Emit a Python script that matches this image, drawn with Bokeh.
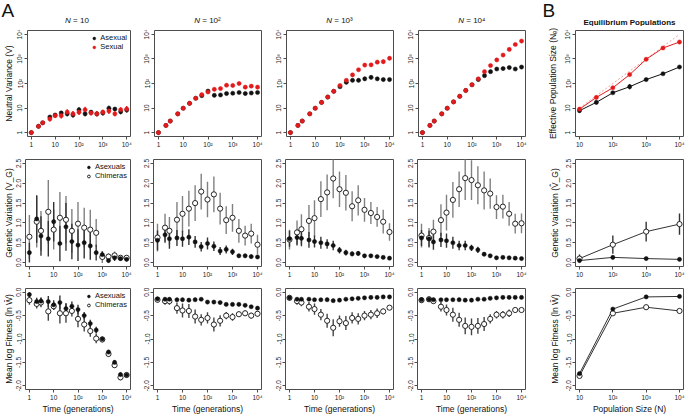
import math
from bokeh.plotting import figure
from bokeh.layouts import row, column
from bokeh.models import Range1d, FixedTicker, Label, Legend, LegendItem
from bokeh.embed import file_html
from bokeh.resources import INLINE

FONT = "Liberation Sans"
BLACK = "#111111"
RED = "#E31A1C"
GRAY = "#808080"
PINK = "#F2A0A0"

# ---------------- data ----------------
generations = [1, 2, 3, 6, 10, 18, 32, 56, 100, 180, 320, 560, 1000, 1800, 3200, 5600, 10000]
pop_size = [10, 100, 1000, 10000]
pop_size_ne = [10, 32, 100, 320, 1000, 3200, 10000]

time_ticks = [1, 10, 100, 1000, 10000]
time_tick_labels = ["1", "10", "10²", "10³", "10⁴"]
pop_ticks = [10, 100, 1000, 10000]
pop_tick_labels = ["10", "10²", "10³", "10⁴"]
nv_ticks = [1, 10, 100, 1000, 10000]
nv_tick_labels = ["1", "10", "10²", "10³", "10⁴"]
gv_ticks = [0, 0.5, 1, 1.5, 2, 2.5]
gv_tick_labels = ["0.0", "0.5", "1.0", "1.5", "2.0", "2.5"]
fit_ticks = [-2, -1.5, -1, -0.5, 0]
fit_tick_labels = ["-2.0", "-1.5", "-1.0", "-0.5", "0.0"]

panel_n_values = ["10", "10²", "10³", "10⁴"]
eq_title = "Equilibrium Populations"
section_letters = ["A", "B"]

nv_asex = [
    [1.0, 1.8, 2.5, 4.3, 5.2, 6.3, 5.8, 5.2, 8.5, 5.8, 6.8, 5.8, 6.3, 9.8, 9.1, 7.1, 8.3],
    [1.0, 1.95, 2.95, 5.8, 9.8, 15.5, 25, 32, 49, 33, 34, 39, 40, 43, 39, 41, 43],
    [1.0, 1.95, 2.95, 5.8, 9.8, 17, 28, 48, 74, 112, 135, 135, 155, 178, 155, 145, 145],
    [1.0, 1.95, 2.95, 5.8, 9.8, 17.8, 30, 52, 89, 145, 209, 302, 389, 407, 447, 389, 468],
]
nv_sex = [
    [1.0, 1.8, 2.5, 3.6, 4.9, 4.9, 6.8, 5.8, 6.8, 8.5, 6.3, 5.8, 6.8, 7.6, 5.8, 8.5, 9.1],
    [1.0, 1.95, 2.95, 5.8, 9.8, 15.5, 25, 35, 45, 58, 62, 85, 83, 100, 71, 78, 71],
    [1.0, 1.95, 2.95, 5.8, 9.8, 17, 28, 48, 83, 135, 224, 363, 562, 575, 741, 776, 1070],
    [1.0, 1.95, 2.95, 5.8, 9.8, 17.8, 30, 52, 89, 155, 302, 537, 912, 1445, 2455, 3890, 5370],
]
nv_asex_err = [
    [0.04, 0.06, 0.06, 0.07, 0.07, 0.08, 0.1, 0.1, 0.1, 0.1, 0.08, 0.1, 0.1, 0.1, 0.08, 0.1, 0.1],
    [0.02, 0.02, 0.02, 0.02, 0.02, 0.02, 0.02, 0.04, 0.05, 0.06, 0.06, 0.06, 0.06, 0.05, 0.05, 0.05, 0.05],
    [0.02, 0.02, 0.02, 0.02, 0.02, 0.02, 0.02, 0.02, 0.04, 0.05, 0.06, 0.06, 0.08, 0.08, 0.04, 0.04, 0.04],
    [0.02, 0.02, 0.02, 0.02, 0.02, 0.02, 0.02, 0.02, 0.02, 0.03, 0.04, 0.04, 0.04, 0.04, 0.05, 0.04, 0.05],
]
nv_sex_err = [
    [0.03, 0.05, 0.05, 0.1, 0.1, 0.12, 0.12, 0.12, 0.12, 0.12, 0.1, 0.1, 0.1, 0.12, 0.1, 0.1, 0.12],
    [0.02, 0.02, 0.02, 0.02, 0.02, 0.02, 0.02, 0.04, 0.05, 0.06, 0.06, 0.07, 0.07, 0.07, 0.06, 0.06, 0.06],
    [0.02, 0.02, 0.02, 0.02, 0.02, 0.02, 0.02, 0.02, 0.02, 0.05, 0.05, 0.06, 0.07, 0.07, 0.07, 0.08, 0.08],
    [0.02, 0.02, 0.02, 0.02, 0.02, 0.02, 0.02, 0.02, 0.02, 0.02, 0.02, 0.02, 0.02, 0.02, 0.02, 0.02, 0.02],
]
ne_asex = [7.8, 17, 42, 74, 145, 250, 470]
ne_sex = [9, 27, 67, 230, 970, 2800, 4900]
ne_asex_err = [0.08, 0.08, 0.04, 0.1, 0.03, 0.03, 0.03]
ne_sex_err = [0.08, 0.05, 0.04, 0.05, 0.07, 0.07, 0.05]

gv_asex = [
    [0.25, 1.10, 0.67, 0.60, 1.03, 0.48, 0.90, 0.53, 0.44, 0.50, 0.42, 0.25, 0.20, 0.05, 0.12, 0.10, 0.08],
    [0.56, 0.70, 0.60, 0.62, 0.60, 0.64, 0.52, 0.40, 0.48, 0.41, 0.29, 0.33, 0.27, 0.17, 0.17, 0.15, 0.14],
    [0.60, 0.63, 0.61, 0.57, 0.53, 0.50, 0.47, 0.43, 0.31, 0.25, 0.22, 0.23, 0.17, 0.17, 0.15, 0.13, 0.11],
    [0.62, 0.60, 0.52, 0.57, 0.55, 0.50, 0.43, 0.43, 0.37, 0.32, 0.21, 0.17, 0.12, 0.13, 0.12, 0.11, 0.10],
]
gv_asex_err = [
    [0.25, 0.6, 0.5, 0.45, 0.5, 0.45, 0.6, 0.45, 0.4, 0.4, 0.35, 0.2, 0.08, 0.05, 0.08, 0.05, 0.05],
    [0.25, 0.2, 0.25, 0.2, 0.2, 0.2, 0.15, 0.12, 0.15, 0.12, 0.1, 0.1, 0.08, 0.05, 0.05, 0.05, 0.05],
    [0.2, 0.2, 0.2, 0.2, 0.15, 0.15, 0.12, 0.12, 0.08, 0.07, 0.06, 0.06, 0.04, 0.04, 0.04, 0.03, 0.03],
    [0.2, 0.2, 0.2, 0.18, 0.18, 0.15, 0.12, 0.12, 0.08, 0.08, 0.05, 0.04, 0.03, 0.03, 0.03, 0.03, 0.03],
]
gv_chim = [
    [0.65, 1.03, 0.80, 1.28, 0.83, 1.13, 1.08, 0.80, 0.98, 0.88, 0.83, 0.75, 0.14, 0.15, 0.18, 0.12, 0.12],
    [0.63, 0.88, 0.80, 1.08, 1.23, 1.36, 1.50, 1.79, 1.59, 1.72, 1.36, 1.07, 1.13, 0.80, 0.68, 0.73, 0.45],
    [0.58, 0.76, 0.84, 1.05, 1.12, 1.60, 1.77, 2.12, 1.85, 1.76, 1.42, 1.57, 1.33, 1.25, 1.15, 1.03, 0.77],
    [0.68, 0.62, 0.78, 1.07, 1.26, 1.58, 1.85, 2.13, 2.08, 1.95, 1.82, 1.74, 1.40, 1.41, 1.23, 0.98, 0.99],
]
gv_chim_err = [
    [0.55, 0.65, 0.5, 0.8, 0.5, 0.65, 0.6, 0.55, 0.55, 0.5, 0.5, 0.35, 0.15, 0.08, 0.1, 0.05, 0.05],
    [0.35, 0.35, 0.35, 0.45, 0.45, 0.45, 0.45, 0.45, 0.45, 0.45, 0.4, 0.35, 0.35, 0.3, 0.25, 0.25, 0.25],
    [0.25, 0.3, 0.38, 0.4, 0.45, 0.45, 0.45, 0.5, 0.45, 0.45, 0.38, 0.38, 0.3, 0.28, 0.25, 0.3, 0.22],
    [0.3, 0.25, 0.3, 0.4, 0.45, 0.45, 0.45, 0.55, 0.5, 0.48, 0.48, 0.38, 0.3, 0.3, 0.3, 0.25, 0.25],
]
eq_gv_asex = [0.05, 0.13, 0.10, 0.08]
eq_gv_asex_err = [0.03, 0.05, 0.03, 0.03]
eq_gv_chim = [0.10, 0.45, 0.78, 0.97]
eq_gv_chim_err = [0.1, 0.23, 0.25, 0.27]

fit_asex = [
    [-0.05, -0.20, -0.19, -0.20, -0.27, -0.22, -0.35, -0.30, -0.37, -0.50, -0.67, -0.81, -1.00, -1.28, -1.50, -1.76, -1.77],
    [-0.14, -0.15, -0.15, -0.16, -0.16, -0.17, -0.16, -0.15, -0.21, -0.21, -0.22, -0.26, -0.26, -0.26, -0.28, -0.31, -0.34],
    [-0.12, -0.15, -0.15, -0.15, -0.16, -0.16, -0.16, -0.18, -0.17, -0.15, -0.14, -0.13, -0.12, -0.11, -0.11, -0.10, -0.10],
    [-0.16, -0.15, -0.16, -0.16, -0.16, -0.16, -0.16, -0.17, -0.17, -0.15, -0.15, -0.13, -0.12, -0.11, -0.11, -0.11, -0.11],
]
fit_asex_err = [
    [0.05, 0.08, 0.08, 0.12, 0.1, 0.15, 0.12, 0.1, 0.1, 0.08, 0.08, 0.07, 0.05, 0.05, 0.05, 0.05, 0.04],
    [0.04, 0.04, 0.04, 0.04, 0.04, 0.04, 0.03, 0.03, 0.03, 0.03, 0.03, 0.03, 0.03, 0.03, 0.03, 0.03, 0.03],
    [0.03, 0.03, 0.03, 0.03, 0.03, 0.03, 0.03, 0.03, 0.03, 0.03, 0.03, 0.03, 0.03, 0.03, 0.03, 0.03, 0.03],
    [0.03, 0.03, 0.03, 0.03, 0.03, 0.03, 0.03, 0.03, 0.03, 0.03, 0.03, 0.03, 0.03, 0.03, 0.03, 0.03, 0.03],
]
fit_chim = [
    [-0.17, -0.25, -0.22, -0.41, -0.30, -0.45, -0.45, -0.40, -0.57, -0.69, -0.83, -0.99, -1.01, -1.32, -1.56, -1.82, -1.77],
    [-0.16, -0.19, -0.19, -0.34, -0.39, -0.40, -0.52, -0.59, -0.55, -0.69, -0.61, -0.50, -0.53, -0.47, -0.45, -0.50, -0.46],
    [-0.12, -0.19, -0.22, -0.31, -0.36, -0.48, -0.61, -0.76, -0.62, -0.66, -0.55, -0.57, -0.50, -0.48, -0.45, -0.41, -0.33],
    [-0.17, -0.15, -0.19, -0.31, -0.38, -0.48, -0.59, -0.72, -0.74, -0.72, -0.68, -0.57, -0.48, -0.48, -0.45, -0.38, -0.38],
]
fit_chim_err = [
    [0.1, 0.1, 0.1, 0.2, 0.08, 0.22, 0.2, 0.12, 0.18, 0.15, 0.12, 0.1, 0.06, 0.06, 0.06, 0.06, 0.05],
    [0.06, 0.08, 0.08, 0.12, 0.15, 0.15, 0.15, 0.12, 0.12, 0.15, 0.12, 0.08, 0.08, 0.06, 0.06, 0.06, 0.06],
    [0.05, 0.08, 0.08, 0.1, 0.12, 0.12, 0.15, 0.18, 0.12, 0.15, 0.12, 0.12, 0.1, 0.1, 0.1, 0.06, 0.05],
    [0.06, 0.05, 0.06, 0.1, 0.12, 0.15, 0.15, 0.18, 0.18, 0.17, 0.15, 0.1, 0.08, 0.08, 0.08, 0.05, 0.05],
]
eq_fit_asex = [-1.74, -0.36, -0.10, -0.09]
eq_fit_asex_err = [0.03, 0.02, 0.02, 0.02]
eq_fit_chim = [-1.79, -0.45, -0.32, -0.40]
eq_fit_chim_err = [0.04, 0.03, 0.05, 0.05]


# ---------------- helpers ----------------
def pad_log(lo, hi):
    a, b = math.log10(lo), math.log10(hi)
    d = (b - a) * 0.04
    return Range1d(10 ** (a - d), 10 ** (b + d))


def pad_lin(lo, hi):
    d = (hi - lo) * 0.04
    return Range1d(lo - d, hi + d)


def make_fig(w, h, bl, br, bt, bb, xr, yr, ylog, xt, xl, yt, yl):
    p = figure(width=w, height=h, x_range=xr, y_range=yr,
               x_axis_type="log", y_axis_type="log" if ylog else "linear",
               output_backend="svg", toolbar_location=None, title=None,
               min_border_left=bl, min_border_right=br,
               min_border_top=bt, min_border_bottom=bb)
    p.xgrid.visible = False
    p.ygrid.visible = False
    p.outline_line_color = "#4d4d4d"
    p.outline_line_width = 1
    p.background_fill_color = "white"
    p.border_fill_color = "white"
    p.xaxis.ticker = FixedTicker(ticks=xt)
    p.yaxis.ticker = FixedTicker(ticks=yt)
    p.xaxis.major_label_overrides = dict(zip(xt, xl))
    p.yaxis.major_label_overrides = dict(zip(yt, yl))
    for ax in p.axis:
        ax.axis_line_color = None
        ax.major_tick_out = 3
        ax.major_tick_in = 0
        ax.major_tick_line_color = "#4d4d4d"
        ax.minor_tick_line_color = None
        ax.major_label_text_font = FONT
        ax.major_label_text_font_size = "6.5px"
        ax.major_label_text_color = "#222222"
        ax.major_label_standoff = 1
        ax.axis_label_text_font = FONT
        ax.axis_label_text_font_size = "8.5px"
        ax.axis_label_text_font_style = "normal"
        ax.axis_label_text_color = "#111111"
        ax.axis_label_standoff = 0
    p.yaxis.major_label_orientation = "vertical"
    return p


def bounds(y, err, log):
    if log:
        return [v / 10 ** e for v, e in zip(y, err)], [v * 10 ** e for v, e in zip(y, err)]
    return [v - e for v, e in zip(y, err)], [v + e for v, e in zip(y, err)]


def bars(p, x, y, err, color, log=False):
    lo, hi = bounds(y, err, log)
    p.segment(x0=x, y0=lo, x1=x, y1=hi, line_color=color, line_width=1.4)


def filled(p, x, y, color):
    return p.scatter(x, y, marker="circle", size=4.2, fill_color=color, line_color=color, line_width=0.5)


def hollow(p, x, y):
    return p.scatter(x, y, marker="circle", size=5.2, fill_color="white", line_color=BLACK, line_width=0.9)


def legend(p, items):
    lg = Legend(items=[LegendItem(label=l, renderers=[r]) for l, r in items],
                location="top_right", border_line_color=None, background_fill_alpha=0,
                label_text_font=FONT, label_text_font_size="7.5px", label_text_color="#111111",
                glyph_width=7, glyph_height=8, label_height=8, label_standoff=3,
                spacing=0, padding=2, margin=3)
    p.add_layout(lg)


def strip_label(p, x, y, t, size="8px", align="left", style="normal"):
    p.add_layout(Label(x=x, y=y, text=t, text_align=align, text_baseline="middle",
                       text_font=FONT, text_font_size=size, text_color="#111111",
                       text_font_style=style))


# ---------------- layout geometry ----------------
TOTAL_W = 687
STRIP_H = 26
col_w = [140, 132, 132, 136, 147]
col_bl = [23, 13, 13, 13, 35]
col_br = [10, 11, 11, 15, 4]
row_h = [150 - STRIP_H, 130, 136]
row_bt = [30 - STRIP_H, 9, 8]
row_bb = [12, 12, 22]
col_x0 = [sum(col_w[:i]) for i in range(5)]
frame_cx = [x0 + bl + (w - bl - br) / 2 for x0, w, bl, br in zip(col_x0, col_w, col_bl, col_br)]

# strip above the panels: section letters and panel titles
strip = figure(width=TOTAL_W, height=STRIP_H, x_range=Range1d(0, TOTAL_W), y_range=Range1d(0, STRIP_H),
               output_backend="svg", toolbar_location=None, title=None,
               x_axis_location=None, y_axis_location=None, min_border=0)
strip.xgrid.visible = False
strip.ygrid.visible = False
strip.outline_line_color = None
strip.border_fill_color = "white"
for lx, letter in zip([1, 542], section_letters):
    strip_label(strip, lx, STRIP_H - 10, letter, size="19px")
for c, nv in enumerate(panel_n_values):
    # approximate widths (8px Liberation Sans): "N" 5.8, gap 2.2, "= " 6.9, digits 4.45, superscript 2.7
    w_val = 6.9 + 8.9 + (2.7 if len(nv) > 2 else 0)
    start = frame_cx[c] - (5.8 + 2.2 + w_val) / 2
    strip_label(strip, start, STRIP_H - 20, "N", style="italic")
    strip_label(strip, start + 8.0, STRIP_H - 20, "= " + nv)
strip_label(strip, frame_cx[4], STRIP_H - 22, eq_title, align="center", style="bold")

rows = [[], [], []]
for c in range(5):
    eq = c == 4
    xr = pad_log(pop_size[0], pop_size[-1]) if eq else pad_log(generations[0], generations[-1])
    xt = pop_ticks if eq else time_ticks
    xl = pop_tick_labels if eq else time_tick_labels
    p1 = make_fig(col_w[c], row_h[0], col_bl[c], col_br[c], row_bt[0], row_bb[0],
                  xr, pad_log(nv_ticks[0], nv_ticks[-1]), True, xt, xl, nv_ticks, nv_tick_labels)
    p2 = make_fig(col_w[c], row_h[1], col_bl[c], col_br[c], row_bt[1], row_bb[1],
                  Range1d(xr.start, xr.end), pad_lin(gv_ticks[0], gv_ticks[-1]),
                  False, xt, xl, gv_ticks, gv_tick_labels)
    p3 = make_fig(col_w[c], row_h[2], col_bl[c], col_br[c], row_bt[2], row_bb[2],
                  Range1d(xr.start, xr.end), pad_lin(fit_ticks[0], fit_ticks[-1]),
                  False, xt, xl, fit_ticks, fit_tick_labels)

    if not eq:
        g = generations
        bars(p1, g, nv_asex[c], nv_asex_err[c], BLACK, log=True)
        bars(p1, g, nv_sex[c], nv_sex_err[c], RED, log=True)
        ra = filled(p1, g, nv_asex[c], BLACK)
        rs = filled(p1, g, nv_sex[c], RED)

        bars(p2, g, gv_chim[c], gv_chim_err[c], GRAY)
        bars(p2, g, gv_asex[c], gv_asex_err[c], "#333333")
        rc2 = hollow(p2, g, gv_chim[c])
        ra2 = filled(p2, g, gv_asex[c], BLACK)

        bars(p3, g, fit_chim[c], fit_chim_err[c], "#444444")
        bars(p3, g, fit_asex[c], fit_asex_err[c], "#333333")
        rc3 = hollow(p3, g, fit_chim[c])
        ra3 = filled(p3, g, fit_asex[c], BLACK)

        p3.xaxis.axis_label = "Time (generations)"
        if c == 0:
            legend(p1, [("Asexual", ra), ("Sexual", rs)])
            legend(p2, [("Asexuals", ra2), ("Chimeras", rc2)])
            legend(p3, [("Asexuals", ra3), ("Chimeras", rc3)])
            p1.yaxis.axis_label = "Neutral Variance (V)"
            p2.yaxis.axis_label = "Genetic Variation (V_G)"
            p3.yaxis.axis_label = "Mean log Fitness (ln W̄)"
    else:
        n = pop_size
        p1.line([pop_size_ne[0], pop_size_ne[-1]], [pop_size_ne[0], pop_size_ne[-1]],
                line_color=PINK, line_width=1, line_dash="2 2")
        p1.line(pop_size_ne, ne_asex, line_color=BLACK, line_width=1)
        p1.line(pop_size_ne, ne_sex, line_color=RED, line_width=1)
        bars(p1, pop_size_ne, ne_asex, ne_asex_err, BLACK, log=True)
        bars(p1, pop_size_ne, ne_sex, ne_sex_err, RED, log=True)
        filled(p1, pop_size_ne, ne_asex, BLACK)
        filled(p1, pop_size_ne, ne_sex, RED)

        p2.line(n, eq_gv_asex, line_color="#333333", line_width=1)
        p2.line(n, eq_gv_chim, line_color="#333333", line_width=1)
        bars(p2, n, eq_gv_chim, eq_gv_chim_err, "#333333")
        bars(p2, n, eq_gv_asex, eq_gv_asex_err, "#333333")
        hollow(p2, n, eq_gv_chim)
        filled(p2, n, eq_gv_asex, BLACK)

        p3.line(n, eq_fit_asex, line_color="#333333", line_width=1)
        p3.line(n, eq_fit_chim, line_color="#333333", line_width=1)
        bars(p3, n, eq_fit_chim, eq_fit_chim_err, "#333333")
        bars(p3, n, eq_fit_asex, eq_fit_asex_err, "#333333")
        hollow(p3, n, eq_fit_chim)
        filled(p3, n, eq_fit_asex, BLACK)

        p1.yaxis.axis_label = "Effective Population Size (Nₑ)"
        p2.yaxis.axis_label = "Genetic Variation (V̂_G)"
        p3.yaxis.axis_label = "Mean log Fitness (ln Ŵ)"
        p3.xaxis.axis_label = "Population Size (N)"
        for pp in (p1, p2, p3):
            pp.yaxis.axis_label_standoff = 4

    rows[0].append(p1)
    rows[1].append(p2)
    rows[2].append(p3)

layout = column(strip,
                row(*rows[0], spacing=0), row(*rows[1], spacing=0), row(*rows[2], spacing=0),
                spacing=0)

open("out.html", "w").write(file_html(layout, INLINE))
